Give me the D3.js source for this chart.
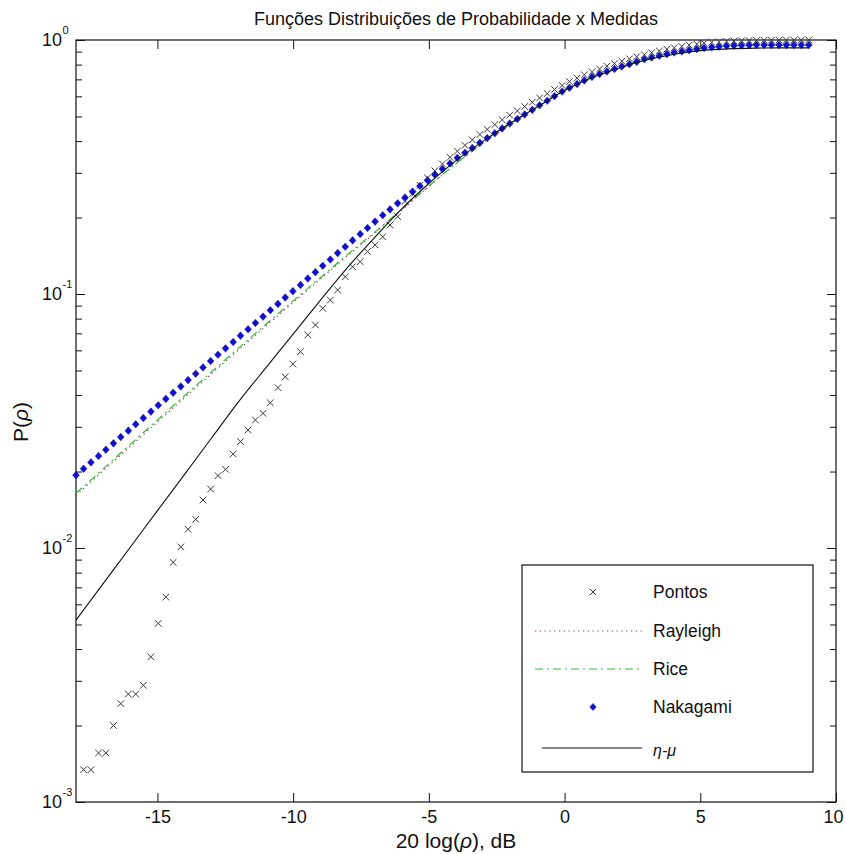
<!DOCTYPE html>
<html><head><meta charset="utf-8">
<script src="https://cdn.jsdelivr.net/npm/d3@7"></script>
<style>
body{margin:0;background:#fff}
svg{display:block}
text{font-family:"Liberation Sans",Arial,Helvetica,sans-serif;fill:#111}
</style>
</head><body>
<svg id="chart" width="845" height="854"></svg>
<script>
// ---------- data ----------
const titleText = "Funções Distribuições de Probabilidade x Medidas";
const seriesNames = ["Pontos", "Rayleigh", "Rice", "Nakagami", "η-μ"];

// measurement grid (dB) for the marker series
const dB = [
-18.00,-17.72,-17.45,-17.17,-16.90,-16.62,-16.35,-16.07,-15.80,-15.52,
-15.24,-14.97,-14.69,-14.42,-14.14,-13.87,-13.59,-13.32,-13.04,-12.77,
-12.49,-12.21,-11.94,-11.66,-11.39,-11.11,-10.84,-10.56,-10.29,-10.01,
-9.73,-9.46,-9.18,-8.91,-8.63,-8.36,-8.08,-7.81,-7.53,-7.26,
-6.98,-6.70,-6.43,-6.15,-5.88,-5.60,-5.33,-5.05,-4.78,-4.50,
-4.22,-3.95,-3.67,-3.40,-3.12,-2.85,-2.57,-2.30,-2.02,-1.74,
-1.47,-1.19,-0.92,-0.64,-0.37,-0.09,0.18,0.46,0.73,1.01,
1.29,1.56,1.84,2.11,2.39,2.66,2.94,3.21,3.49,3.77,
4.04,4.32,4.59,4.87,5.14,5.42,5.69,5.97,6.24,6.52,
6.80,7.07,7.35,7.62,7.90,8.17,8.45,8.72,9.00];

const pontos = [
null,0.00134,0.00134,0.00156,0.00156,0.00200,0.00244,0.00266,0.00266,0.00288,
0.00373,0.00505,0.00641,0.00878,0.0101,0.01185,0.01297,0.01545,0.01706,0.01927,
0.0204,0.02344,0.02623,0.02916,0.0319,0.0339,0.0373,0.0428,0.0472,0.053,
0.0593,0.069,0.0755,0.0878,0.0946,0.1037,0.117,0.128,0.134,0.147,
0.156,0.168,0.187,0.2015,0.2317,0.2483,0.2679,0.2864,0.3055,0.3251,
0.3451,0.3648,0.3846,0.4046,0.4246,0.4446,0.4645,0.4853,0.5058,0.5260,
0.5470,0.5689,0.5916,0.6152,0.6383,0.6622,0.6855,0.7079,0.7295,0.7499,
0.7691,0.7889,0.8072,0.8260,0.8433,0.8590,0.8750,0.8913,0.9057,0.9204,
0.9333,0.9441,0.9550,0.9638,0.9727,0.9795,0.9840,0.9886,0.9910,0.9930,
0.9954,0.9965,0.9975,0.9982,0.9988,0.9991,0.9994,0.9997,1.0];

const nakagami = [
0.01936,0.02051,0.02173,0.02301,0.02438,0.02582,0.02735,0.02897,0.03069,0.03251,
0.03443,0.03648,0.03864,0.04086,0.04325,0.04581,0.04853,0.05140,0.05445,0.05768,
0.06109,0.06471,0.06855,0.07261,0.07691,0.08147,0.0863,0.09141,0.09683,0.1026,
0.1086,0.1151,0.1219,0.1291,0.1368,0.1449,0.1535,0.1626,0.1722,0.1820,
0.1928,0.2042,0.2153,0.2275,0.2399,0.2529,0.2661,0.2805,0.2951,0.3105,
0.3266,0.3436,0.3597,0.3758,0.3936,0.4111,0.4295,0.4487,0.4688,0.4887,
0.5093,0.5309,0.5534,0.5768,0.6012,0.6266,0.6486,0.6714,0.6934,0.7161,
0.7345,0.7516,0.7691,0.7870,0.8035,0.8204,0.8395,0.8531,0.8670,0.8801,
0.8933,0.9024,0.9120,0.9222,0.9299,0.9359,0.9417,0.9478,0.9502,0.9524,
0.9546,0.9553,0.9558,0.9561,0.9561,0.9561,0.9561,0.9561,0.9561];

// grid (dB) for the line series
const dBLine = [-18,-17,-16,-15,-14,-13,-12,-11,-10,-9,-8,-7,-6,-5,-4,-3,-2,-1,0,1,2,3,4,5,6,7,8,9];
const rayleigh = [0.01611,0.02014,0.02512,0.03133,0.03908,0.04864,0.06039,0.07482,0.09268,0.1146,0.1413,0.1734,0.2138,0.2649,0.3258,0.3936,0.4656,0.5445,0.6353,0.7161,0.7798,0.8433,0.8913,0.9268,0.9484,0.9561,0.9561,0.9561];
const rice     = [0.01641,0.02048,0.02559,0.03192,0.03981,0.04943,0.06138,0.07600,0.09397,0.1159,0.1429,0.1750,0.2153,0.2661,0.3266,0.3936,0.4656,0.5445,0.6353,0.7161,0.7798,0.8433,0.8913,0.9268,0.9484,0.9561,0.9561,0.9561];
const etaMu    = [0.00520,0.00724,0.01007,0.01403,0.01950,0.02716,0.03776,0.05129,0.06950,0.09441,0.1271,0.1667,0.2163,0.2723,0.3350,0.3999,0.4699,0.5458,0.6324,0.7096,0.7745,0.8337,0.8770,0.9078,0.9226,0.9290,0.9311,0.9311];

// ticks
const xTicks = [-15,-10,-5,0,5,10];
const yTicks = [1e-3,1e-2,1e-1,1];
const yTickExp = ["-3","-2","-1","0"];
const minorMult = [2,3,4,5,6,7,8,9];

// ---------- layout ----------
const W = 845, H = 854;
const L = 76, R = 836, T = 40, B = 802;
const x = d3.scaleLinear().domain([-18, 10]).range([L, R]);
const y = d3.scaleLog().domain([1e-3, 1]).range([B, T]);

const svg = d3.select("#chart");
svg.append("rect").attr("width", W).attr("height", H).attr("fill", "#fff");

const minorTicks = [];
yTicks.slice(0, 3).forEach(d => minorMult.forEach(m => minorTicks.push(d * m)));

function clean(g){ g.select(".domain").remove(); g.selectAll(".tick line").attr("stroke","#111").attr("stroke-width",1); }

// x axes
svg.append("g").attr("transform",`translate(0,${B})`)
  .call(d3.axisBottom(x).tickValues(xTicks).tickSize(-9).tickPadding(8).tickFormat(d => String(d)))
  .call(clean)
  .call(g => g.selectAll("text").attr("font-size",18).attr("font-family","'Liberation Sans',Arial,sans-serif").attr("fill","#111")
    .attr("dx", d => d === 10 ? -3 : 0));
svg.append("g").attr("transform",`translate(0,${T})`)
  .call(d3.axisTop(x).tickValues(xTicks).tickSize(-9).tickFormat("")).call(clean);

// y axes
svg.append("g").attr("transform",`translate(${L},0)`)
  .call(d3.axisLeft(y).tickValues(yTicks).tickSize(-9).tickFormat("")).call(clean);
svg.append("g").attr("transform",`translate(${L},0)`)
  .call(d3.axisLeft(y).tickValues(minorTicks).tickSize(-6).tickFormat("")).call(clean);
svg.append("g").attr("transform",`translate(${R},0)`)
  .call(d3.axisRight(y).tickValues(yTicks).tickSize(-9).tickFormat("")).call(clean);
svg.append("g").attr("transform",`translate(${R},0)`)
  .call(d3.axisRight(y).tickValues(minorTicks).tickSize(-6).tickFormat("")).call(clean);

// y tick labels 10^k
yTicks.forEach((v, i) => {
  svg.append("text").attr("x", 62).attr("y", y(v) + 6.4).attr("text-anchor", "end")
    .attr("font-size", 18).text("10");
  svg.append("text").attr("x", 62.5).attr("y", y(v) - 6.5)
    .attr("font-size", 11).text(yTickExp[i]);
});

// frame
svg.append("rect").attr("x", L).attr("y", T).attr("width", R - L).attr("height", B - T)
  .attr("fill", "none").attr("stroke", "#111").attr("stroke-width", 1.2);

// ---------- series ----------
const crossPath = s => `M${-s},${-s}L${s},${s}M${-s},${s}L${s},${-s}`;
const diamondPath = (w, h) => `M0,${-h}L${w},0L0,${h}L${-w},0Z`;

const ptsP = dB.map((d, i) => [d, pontos[i]]).filter(p => p[1] != null);
svg.append("g").selectAll("path").data(ptsP).join("path")
  .attr("transform", d => `translate(${x(d[0])},${y(d[1])})`)
  .attr("d", crossPath(3.3)).attr("fill", "none").attr("stroke", "#3a3a3a").attr("stroke-width", 1);

const line = d3.line().x(d => x(d[0])).y(d => y(d[1])).curve(d3.curveMonotoneX);

svg.append("path").datum(dBLine.map((d, i) => [d, rayleigh[i]]))
  .attr("d", line).attr("fill", "none").attr("stroke", "#993366").attr("stroke-width", 1.2)
  .attr("stroke-dasharray", "1.2,3.6");
svg.append("path").datum(dBLine.map((d, i) => [d, rice[i]]))
  .attr("d", line).attr("fill", "none").attr("stroke", "#33bb33").attr("stroke-width", 1.2)
  .attr("stroke-dasharray", "8,4,2,4");

svg.append("g").selectAll("path").data(dB.map((d, i) => [d, nakagami[i]])).join("path")
  .attr("transform", d => `translate(${x(d[0])},${y(d[1])})`)
  .attr("d", diamondPath(3.4, 3.8)).attr("fill", "#1010cc").attr("stroke", "#1010cc").attr("stroke-width", 0.5);

svg.append("path").datum(dBLine.map((d, i) => [d, etaMu[i]]))
  .attr("d", line).attr("fill", "none").attr("stroke", "#111").attr("stroke-width", 1.1);

// ---------- titles ----------
svg.append("text").attr("x", (L + R) / 2).attr("y", 25).attr("text-anchor", "middle")
  .attr("font-size", 18).text(titleText);

const xl = svg.append("text").attr("x", (L + R) / 2).attr("y", 848).attr("text-anchor", "middle").attr("font-size", 21);
xl.append("tspan").text("20 log(");
xl.append("tspan").attr("font-style", "italic").text("ρ");
xl.append("tspan").text("), dB");

const yl = svg.append("text").attr("transform", "translate(28,422) rotate(-90)").attr("text-anchor", "middle").attr("font-size", 21);
yl.append("tspan").text("P(");
yl.append("tspan").attr("font-style", "italic").text("ρ");
yl.append("tspan").text(")");

// ---------- legend ----------
const lg = svg.append("g");
lg.append("rect").attr("x", 522).attr("y", 565).attr("width", 291).attr("height", 207)
  .attr("fill", "#fff").attr("stroke", "#111").attr("stroke-width", 1.2);
const rowY = [592, 631, 669, 707, 748];
const textX = 653;
// Pontos
lg.append("path").attr("transform", `translate(593,${rowY[0]})`).attr("d", crossPath(3))
  .attr("fill", "none").attr("stroke", "#3a3a3a").attr("stroke-width", 1);
// Rayleigh
lg.append("line").attr("x1", 535).attr("x2", 642).attr("y1", rowY[1]).attr("y2", rowY[1])
  .attr("stroke", "#993366").attr("stroke-width", 1.2).attr("stroke-dasharray", "1.2,3.6");
// Rice
lg.append("line").attr("x1", 535).attr("x2", 642).attr("y1", rowY[2]).attr("y2", rowY[2])
  .attr("stroke", "#33bb33").attr("stroke-width", 1.2).attr("stroke-dasharray", "8,4,2,4");
// Nakagami
lg.append("path").attr("transform", `translate(593,${rowY[3]})`).attr("d", diamondPath(3.2, 3.6))
  .attr("fill", "#1010cc").attr("stroke", "#1010cc").attr("stroke-width", 0.5);
// eta-mu
lg.append("line").attr("x1", 542).attr("x2", 642).attr("y1", rowY[4]).attr("y2", rowY[4])
  .attr("stroke", "#111").attr("stroke-width", 1.1);

seriesNames.forEach((n, i) => {
  const t = lg.append("text").attr("x", textX).attr("y", rowY[i] + 6.3).attr("font-size", 17.5).text(n);
  if (i === 4) t.attr("font-style", "italic").attr("font-family", "'Liberation Serif','Times New Roman',serif").attr("font-size", 16).attr("y", rowY[i] + 8);
});
</script>
</body></html>
